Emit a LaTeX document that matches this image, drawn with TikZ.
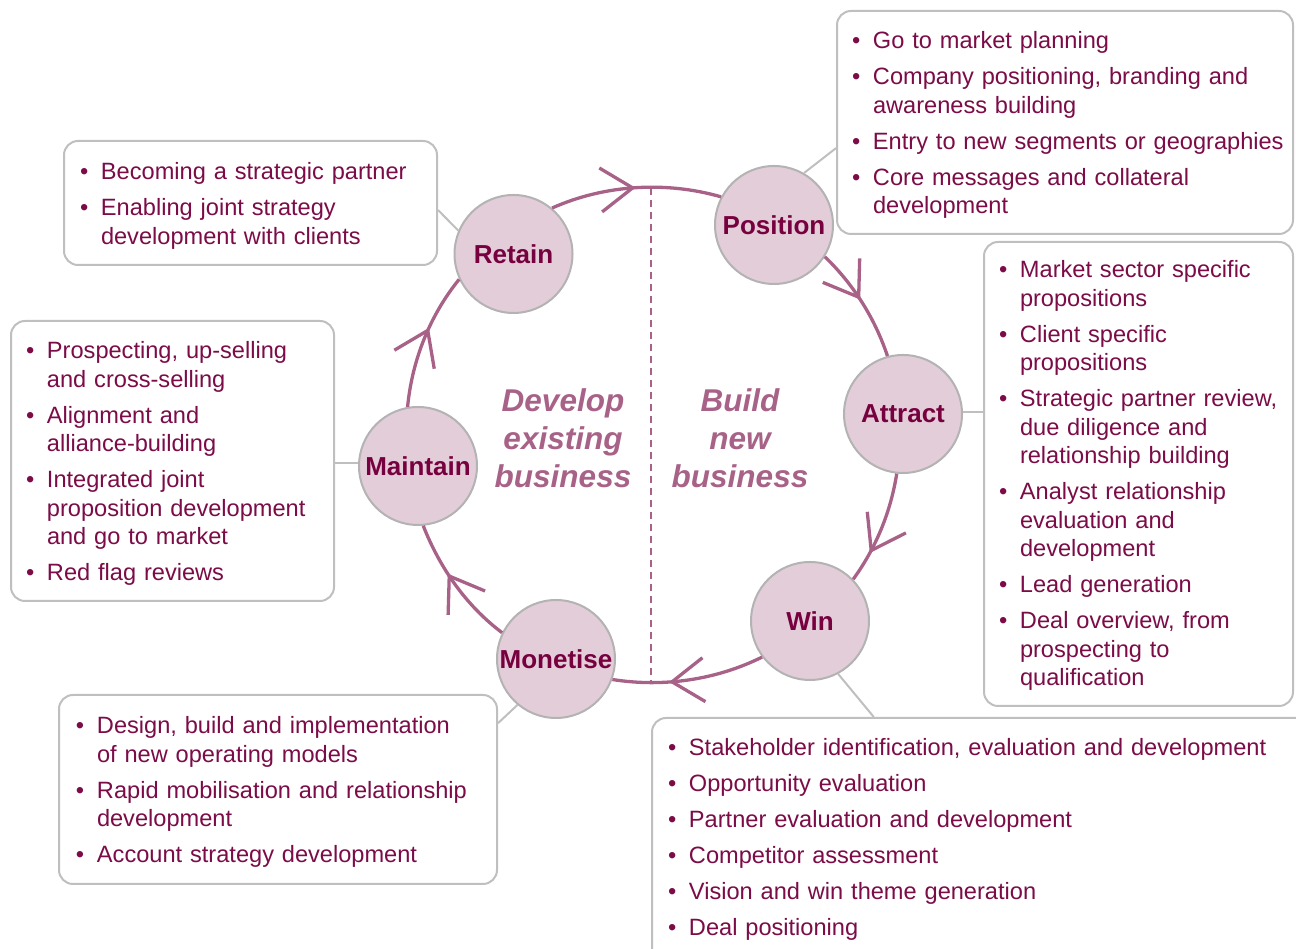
\documentclass[tikz,border=0pt]{standalone}
\usepackage{fontspec}
\setmainfont{Liberation Sans}
\usetikzlibrary{arrows.meta,decorations.markings,calc}

\definecolor{nodefill}{HTML}{E2CDD8}
\definecolor{nodeedge}{HTML}{B3B3B3}
\definecolor{deepwine}{HTML}{77003F}
\definecolor{listwine}{HTML}{7B0C47}
\definecolor{mauve}{HTML}{A86288}
\definecolor{boxedge}{HTML}{BFBFBF}

% list helpers for the info boxes
\newcommand\listsetup[1]{\parskip=7.5pt\relax\leftskip=#1\relax}
\newcommand\bitem[1]{\ifhmode\unskip\fi\hangindent=21pt\hangafter=1\noindent\hbox to 21pt{\textbullet\hss}#1\par}
\newcommand\nl{\hfil\break}

\begin{document}
\begin{tikzpicture}[x=1pt,y=1pt,
  stage/.style={circle, draw=nodeedge, line width=2pt, fill=nodefill,
    minimum size=118pt, inner sep=0pt, text=deepwine,
    font=\fontsize{26}{31}\selectfont\bfseries},
  infobox/.style={draw=boxedge, line width=2pt, rounded corners=14pt,
    fill=white, anchor=north west, inner sep=0pt, align=left,
    text=listwine, font=\fontsize{23.6}{28.5}\selectfont, text height=38pt},
  link/.style={draw=boxedge, line width=2pt},
  cyclearc/.style={draw=mauve, line width=3.3pt, looseness=0.87,
    postaction={decorate},
    decoration={markings, mark=at position #1 with
      {\arrow{Straight Barb[length=32pt,width=44pt]}}}},
  divider/.style={draw=mauve, line width=2pt, dash pattern=on 7pt off 5pt},
  theme/.style={text=mauve, align=center, anchor=north, inner sep=0pt,
    font=\fontsize{31.5}{38}\selectfont\bfseries\itshape}
]
\useasboundingbox (0,0) rectangle (1296,949);
\clip (0,0) rectangle (1296,949);

% stages of the cycle
\node[stage] (Retain)   at (513.5,695) {Retain};
\node[stage] (Position) at (774,724)   {Position};
\node[stage] (Attract)  at (903,535)   {Attract};
\node[stage] (Win)      at (810,328)   {Win};
\node[stage] (Monetise) at (556,290)   {Monetise};
\node[stage] (Maintain) at (418,483)   {Maintain};

% activity boxes
\node[infobox, text width=456pt, text depth=185pt] (pbox) at (836,939) {\listsetup{15pt}
  \bitem{Go to market planning}
  \bitem{Company positioning, branding and\nl awareness building}
  \bitem{Entry to new segments or geographies}
  \bitem{Core messages and collateral\nl development}};

\node[infobox, text width=373pt, text height=39pt, text depth=85pt] (rbox) at (63,809) {\listsetup{16pt}
  \bitem{Becoming a strategic partner}
  \bitem{Enabling joint strategy\nl development with clients}};

\node[infobox, text width=323pt, text depth=242pt] (mbox) at (10,629) {\listsetup{15pt}
  \bitem{Prospecting, up-selling\nl and cross-selling}
  \bitem{Alignment and\nl alliance-building}
  \bitem{Integrated joint\nl proposition development\nl and go to market}
  \bitem{Red flag reviews}};

\node[infobox, text width=309pt, text height=36pt, text depth=428pt] (abox) at (983,708) {\listsetup{15pt}
  \bitem{Market sector specific\nl propositions}
  \bitem{Client specific\nl propositions}
  \bitem{Strategic partner review,\nl due diligence and\nl relationship building}
  \bitem{Analyst relationship\nl evaluation and\nl development}
  \bitem{Lead generation}
  \bitem{Deal overview, from\nl prospecting to\nl qualification}};

\node[infobox, text width=438pt, text height=39pt, text depth=150pt] (nbox) at (58,255) {\listsetup{17pt}
  \bitem{Design, build and implementation\nl of new operating models}
  \bitem{Rapid mobilisation and relationship\nl development}
  \bitem{Account strategy development}};

\node[infobox, text width=669pt, text depth=220pt] (wbox) at (651,232) {\listsetup{16pt}
  \bitem{Stakeholder identification, evaluation and development}
  \bitem{Opportunity evaluation}
  \bitem{Partner evaluation and development}
  \bitem{Competitor assessment}
  \bitem{Vision and win theme generation}
  \bitem{Deal positioning}};

% links from stages to their boxes
\draw[link] (Position.60) -- ($(pbox.north west)!0.614!(pbox.south west)$);
\draw[link] (Retain.157) -- ($(rbox.north east)!0.556!(rbox.south east)$);
\draw[link] (Maintain.177) -- (Maintain.177 -| mbox.east);
\draw[link] (Attract.2) -- (Attract.2 -| abox.west);
\draw[link] (Monetise.230) -- ($(nbox.north east)!0.153!(nbox.south east)$);
\draw[link] (Win.-62) -- ($(wbox.north west)!0.332!(wbox.north east)$);

% the cycle
\draw[cyclearc=0.5]  (Retain.50)    to[out=24,in=164]     (Position.152);
\draw[cyclearc=0.47] (Position.-32) to[out=-44,in=108.5]  (Attract.105);
\draw[cyclearc=0.73] (Attract.264)  to[out=-99,in=54]     (Win.44);
\draw[cyclearc=0.63] (Win.217)      to[out=-153.6,in=-9]  (Monetise.-20);
\draw[cyclearc=0.6]  (Monetise.154) to[out=143,in=-68.5]  (Maintain.-85);
\draw[cyclearc=0.59] (Maintain.100) to[out=84.5,in=231]   (Retain.205);

% divider between the two halves
\coordinate (divtop) at (651,761);
\coordinate (divbot) at (651,267);
\draw[divider] (divtop) -- (divbot);

\node[theme] (develop) at (563,560.5) {Develop\\existing\\business};
\node[theme] (build)   at (740,560.5) {Build\\new\\business};
\end{tikzpicture}
\end{document}
